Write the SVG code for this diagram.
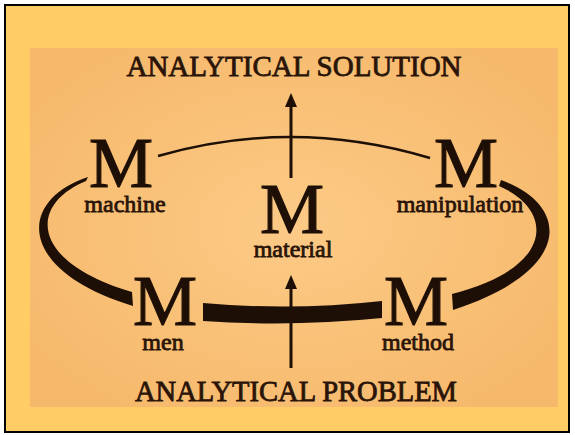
<svg xmlns="http://www.w3.org/2000/svg" width="575" height="435" viewBox="0 0 575 435">
<defs>
<radialGradient id="bg" cx="0.5" cy="0.5" r="0.6">
<stop offset="0" stop-color="#FCCA86"/>
<stop offset="1" stop-color="#F6B96C"/>
</radialGradient>
<marker id="ah" viewBox="0 0 14 12" refX="10" refY="6" markerWidth="14" markerHeight="12" orient="auto" markerUnits="userSpaceOnUse">
<path d="M0 0 L14 6 L0 12 Z" fill="#1e0f06"/>
</marker>
<style>
.big{font-family:"Liberation Serif","Times New Roman",serif;font-size:72px;fill:#1e0f06;stroke:#1e0f06;stroke-width:1.2;text-anchor:middle}
.lbl{font-family:"Liberation Serif","Times New Roman",serif;font-size:24px;fill:#2a1408;stroke:#2a1408;stroke-width:0.8;text-anchor:middle}
.ttl{font-family:"Liberation Serif","Times New Roman",serif;font-size:29px;fill:#2a1408;stroke:#2a1408;stroke-width:0.8;text-anchor:middle}
.thin{fill:none;stroke:#1e0f06;stroke-width:2.5}
.arr{fill:none;stroke:#1e0f06;stroke-width:3}
.thick{fill:#1e0f06;stroke:none}
</style>
</defs>
<rect x="5" y="5" width="564" height="427" fill="#FFCC66" stroke="#000" stroke-width="2"/>
<rect x="30" y="48" width="528" height="359" fill="url(#bg)"/>
<text class="ttl" x="294" y="76">ANALYTICAL SOLUTION</text>
<text class="ttl" x="296" y="401" textLength="322" lengthAdjust="spacingAndGlyphs">ANALYTICAL PROBLEM</text>
<g id="connectors">
<path class="thin" d="M158 156 Q293 117 430 158"/>
<path class="thick" d="M88 177 C18 200 15 270 133 306 L132 292 C30 262 28 205 86 181 Z"/>
<path class="thick" d="M501 180 C570 205 575 270 453 310 L452 294 C555 268 555 210 499 186 Z"/>
<path class="thick" d="M203 303 Q292 311 382 301 L382 318 Q292 327 203 321 Z"/>
<line class="arr" x1="291" y1="178" x2="291" y2="97" marker-end="url(#ah)"/>
<line class="arr" x1="291" y1="368" x2="291" y2="279" marker-end="url(#ah)"/>
</g>
<g id="machine"><text class="big" x="121" y="187">M</text><text class="lbl" x="125" y="212">machine</text></g>
<g id="material"><text class="big" x="292" y="233">M</text><text class="lbl" x="293" y="257">material</text></g>
<g id="manipulation"><text class="big" x="466" y="187">M</text><text class="lbl" x="460" y="212">manipulation</text></g>
<g id="men"><text class="big" x="165" y="325">M</text><text class="lbl" x="163" y="350">men</text></g>
<g id="method"><text class="big" x="416" y="325">M</text><text class="lbl" x="418" y="350">method</text></g>
</svg>
